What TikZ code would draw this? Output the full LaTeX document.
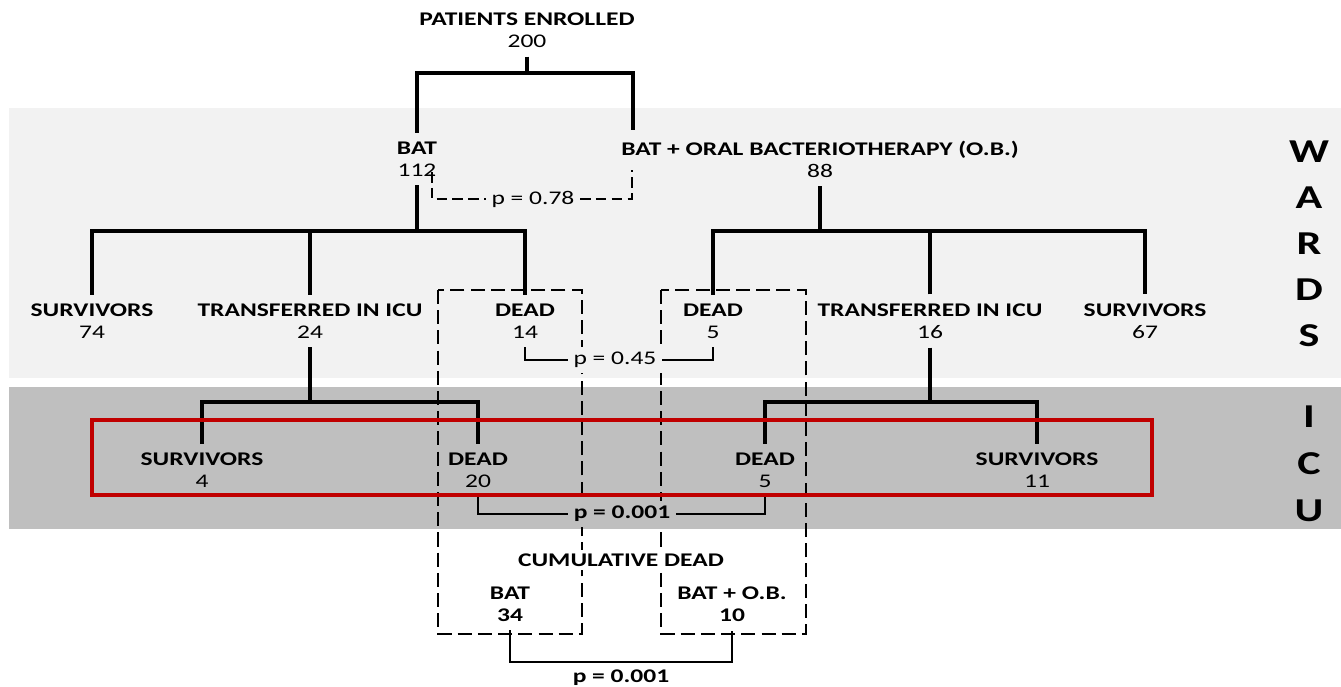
\documentclass[tikz,border=0pt]{standalone}
\usepackage{fontspec}
\setmainfont{Carlito}[FakeStretch=1.32]
\usepackage{tikz}
\usetikzlibrary{calc,positioning}
\definecolor{WardsGray}{HTML}{F2F2F2}
\definecolor{IcuGray}{HTML}{BFBFBF}
\definecolor{BoxRed}{HTML}{C00000}
\tikzstyle{Count} = [align=center, inner sep=5pt, font=\fontsize{11}{12.5}\selectfont]
\tikzstyle{PVal} = [inner sep=3pt, font=\fontsize{11}{12.5}\selectfont]
\tikzstyle{Side} = [font=\fontsize{19}{20}\selectfont\bfseries]
\tikzstyle{Branch} = [line width=1.8pt]
\tikzstyle{PLine} = [line width=1.1pt]
\tikzstyle{PDash} = [line width=0.9pt, dash pattern=on 6pt off 3pt]
\tikzstyle{DashBox} = [line width=1.1pt, dash pattern=on 8pt off 3.5pt]

\begin{document}
\begin{tikzpicture}[x=0.02cm, y=-0.02cm]
        \useasboundingbox (0,0) rectangle (1341,686);
        \fill [WardsGray] (9,108) rectangle (1341,378); %wards band
        \fill [IcuGray] (9,387) rectangle (1341,529); %icu band

        \draw [DashBox] (438,290) rectangle (582,634); %bat dead
        \draw [DashBox] (661,290) rectangle (806,634); %bat+ob dead

        % counts
        \node[Count] (enrolled) at (527,30) {\textbf{PATIENTS ENROLLED}\\200};
        \node[Count] (bat) at (417,159) {\textbf{BAT}\\112};
        \node[Count] (bob) at (820,159) {\textbf{BAT + ORAL BACTERIOTHERAPY (O.B.)}\\88};
        \node[Count] (survL) at (92,321) {\textbf{SURVIVORS}\\74};
        \node[Count] (tinL) at (310,321) {\textbf{TRANSFERRED IN ICU}\\24};
        \node[Count] (deadL) at (525,321) {\textbf{DEAD}\\14};
        \node[Count] (deadR) at (713,321) {\textbf{DEAD}\\5};
        \node[Count] (tinR) at (930,321) {\textbf{TRANSFERRED IN ICU}\\16};
        \node[Count] (survR) at (1145,321) {\textbf{SURVIVORS}\\67};
        \node[Count] (icuSurvL) at (202,470) {\textbf{SURVIVORS}\\4};
        \node[Count] (icuDeadL) at (478,470) {\textbf{DEAD}\\20};
        \node[Count] (icuDeadR) at (765,470) {\textbf{DEAD}\\5};
        \node[Count] (icuSurvR) at (1037,470) {\textbf{SURVIVORS}\\11};
        \node[Count, inner sep=2pt, fill=white] (cumTitle) at (621,560) {\textbf{CUMULATIVE DEAD}};
        \node[Count] (cumBat) at (510,604) {\textbf{BAT}\\\textbf{34}};
        \node[Count] (cumOb) at (732,604) {\textbf{BAT + O.B.}\\\textbf{10}};

        % p values
        \node[PVal, fill=WardsGray] (p78) at (533,199) {p = 0.78};
        \node[PVal, fill=WardsGray] (p45) at (615,360) {p = 0.45};
        \node[PVal, fill=IcuGray] (p001a) at (622,514) {\textbf{p = 0.001}};
        \node[PVal] (p001b) at (621,678) {\textbf{p = 0.001}};

        % junctions
        \coordinate (j0) at (527,73);
        \coordinate (obTop) at (633,130);
        \coordinate (jL1) at (417,231);
        \coordinate (jR1) at (820,231);
        \coordinate (jL2) at (310,402);
        \coordinate (jR2) at (930,402);
        \coordinate (batP) at (432,172);
        \coordinate (bobP) at (632,170);
        \coordinate (jB) at (621,662);

        % tree
        \draw [Branch] (enrolled.south) -- (j0);
        \draw [Branch] (bat.north) |- (j0) -| (obTop);
        \draw [Branch] (bat.south) -- (jL1);
        \draw [Branch] (survL.north) |- (jL1) -| (deadL.north);
        \draw [Branch] (tinL.north) -- (tinL.north |- jL1);
        \draw [Branch] (bob.south) -- (jR1);
        \draw [Branch] (deadR.north) |- (jR1) -| (survR.north);
        \draw [Branch] (tinR.north) -- (tinR.north |- jR1);
        \draw [Branch] (tinL.south) -- (jL2);
        \draw [Branch] (icuSurvL.north) |- (jL2) -| (icuDeadL.north);
        \draw [Branch] (tinR.south) -- (jR2);
        \draw [Branch] (icuDeadR.north) |- (jR2) -| (icuSurvR.north);

        % comparisons
        \draw [PDash] (batP) |- (p78.west);
        \draw [PDash] (p78.east) -| (bobP);
        \draw [PLine] (deadL.south) |- (p45.west);
        \draw [PLine] (p45.east) -| (deadR.south);
        \draw [PLine] (icuDeadL.south) |- (p001a.west);
        \draw [PLine] (p001a.east) -| (icuDeadR.south);
        \draw [PLine] (cumBat.south) |- (jB) -| (cumOb.south);

        \draw [BoxRed, line width=2.3pt] (92,420) rectangle (1152,495); %icu outcome

        % side labels
        \foreach \l [count=\i] in {W,A,R,D,S}
            \node[Side] at (1309,{106+46*\i}) {\l};
        \foreach \l [count=\i] in {I,C,U}
            \node[Side] at (1309,{370+47*\i}) {\l};
    \end{tikzpicture}
\end{document}
